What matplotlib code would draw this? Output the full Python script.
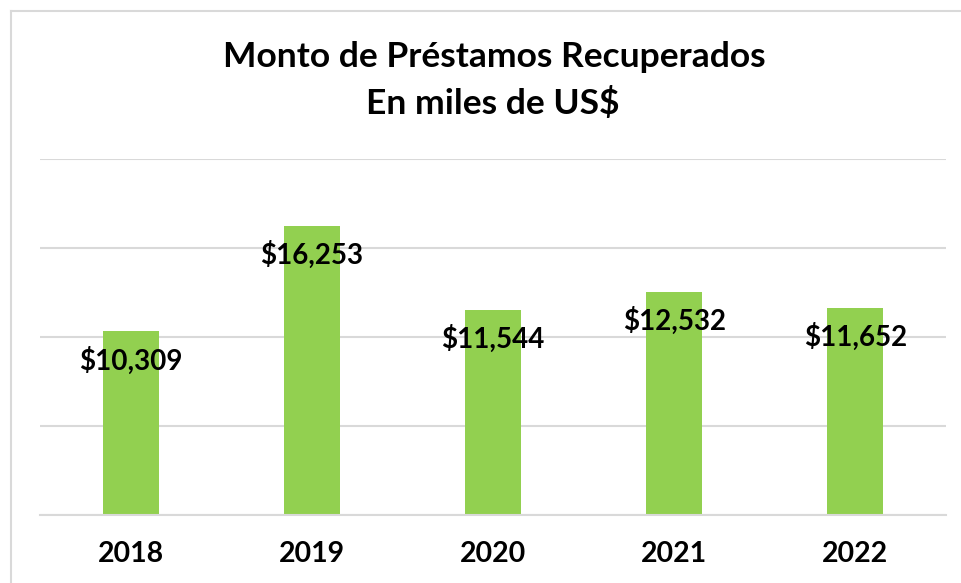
import numpy as np
import matplotlib.pyplot as plt
from matplotlib.lines import Line2D

years = ["2018", "2019", "2020", "2021", "2022"]
montos = [10309, 16253, 11544, 12532, 11652]
title_lines = ["Monto de Préstamos Recuperados", "En miles de US$"]

plt.rcParams["font.family"] = ["Lato", "DejaVu Sans"]

W, H = 962, 583
fig = plt.figure(figsize=(W / 100, H / 100), dpi=100)
ax = fig.add_axes([40 / W, (H - 515) / H, 906 / W, (515 - 159) / H])

x = np.arange(len(years))
ax.bar(x, montos, width=0.31, color="#92D050", zorder=2)

ax.set_xlim(-0.5, len(years) - 0.5)
ax.set_ylim(0, 20000)
ax.set_yticks(np.arange(0, 20001, 5000))
ax.yaxis.grid(True, color="#D9D9D9", linewidth=1.5, zorder=0)
ax.set_axisbelow(True)
ax.tick_params(axis="y", left=False, labelleft=False)
ax.tick_params(axis="x", bottom=False, pad=15)
ax.set_xticks(x)
ax.set_xticklabels(years, fontsize=20.5, fontweight="bold")
for s in ["top", "right", "left"]:
    ax.spines[s].set_visible(False)
ax.spines["bottom"].set_color("#D9D9D9")
ax.spines["bottom"].set_linewidth(1.5)

for xi, v in zip(x, montos):
    ax.annotate(f"${v:,}", (xi, v), xytext=(0, -21), textcoords="offset points",
                ha="center", va="center", fontsize=20, fontweight="bold",
                color="black", zorder=3)

fig.text(494 / W, 1 - 57 / H, title_lines[0], ha="center", va="center",
         fontsize=25.5, fontweight="bold")
fig.text(493 / W, 1 - 103 / H, title_lines[1], ha="center", va="center",
         fontsize=25.5, fontweight="bold")

# marco del grafico (recortado a derecha y abajo)
fig.add_artist(Line2D([10.5 / W, 10.5 / W], [0, 1 - 11 / H], color="#D9D9D9", lw=1.5))
fig.add_artist(Line2D([10.5 / W, 1], [1 - 11 / H, 1 - 11 / H], color="#D9D9D9", lw=1.5))

fig.savefig("out.png", dpi=100)
